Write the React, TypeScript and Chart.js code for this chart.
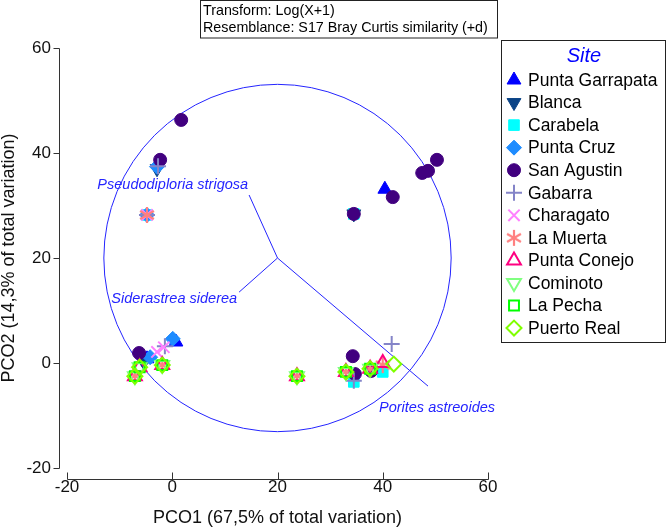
import React, { useEffect, useRef } from 'react';
import { Chart, registerables } from 'chart.js';
import { drawPoint } from 'chart.js/helpers';

Chart.register(...registerables);

const FONT = "'Liberation Sans', Arial, Helvetica, sans-serif";

// ---------------- data ----------------
const siteNames = [
  'Punta Garrapata', 'Blanca', 'Carabela', 'Punta Cruz', 'San Agustin', 'Gabarra',
  'Charagato', 'La Muerta', 'Punta Conejo', 'Cominoto', 'La Pecha', 'Puerto Real',
];

const puntaGarrapata = [[40.4, 33.1], [0.7, 4.0], [-4.8, 0.8]];
const blanca = [[-2.9, 37.0], [34.5, 28.4], [-5.4, 0.2]];
const carabela = [[-4.8, 28.2], [34.5, 28.4], [34.5, -3.6], [40.0, -1.7]];
const puntaCruz = [[0.1, 4.6], [-2.9, 37.4], [-4.8, 28.2], [-4.2, 1.1]];
const sanAgustin = [
  [1.7, 46.3], [-2.3, 38.7], [34.5, 28.4], [41.9, 31.6], [47.5, 36.2], [48.6, 36.6],
  [50.3, 38.7], [-6.3, 1.9], [34.3, 1.3], [34.7, -2.1], [37.8, -1.5],
];
const gabarra = [[-2.7, 37.5], [-4.8, 28.2], [-1.4, 3.2], [34.5, -3.4], [41.7, 3.6]];
const charagato = [[-4.8, 28.2], [-2.9, 2.1], [-1.6, 3.0]];
const laMuerta = [[-4.8, 28.2], [-7.1, -2.5], [-1.9, -0.4], [23.7, -2.5], [33.0, -1.7], [37.6, -1.1], [40.0, -0.4]];
const puntaConejo = [[-7.1, -2.5], [-6.2, -0.8], [-1.9, -0.4], [23.7, -2.5], [33.0, -1.7], [37.6, -1.1], [40.0, 0.0]];
const cominoto = [[-7.1, -2.5], [-6.2, -0.8], [-1.9, -0.4], [23.7, -2.5], [33.0, -1.7], [37.6, -1.1]];
const laPecha = [[-7.1, -2.5], [-6.2, -0.8], [-1.9, -0.4], [23.7, -2.5], [33.0, -1.7], [37.6, -1.1]];
const puertoReal = [[-7.1, -2.5], [-6.2, -0.8], [-1.9, -0.4], [23.7, -2.5], [33.0, -1.7], [37.6, -1.1], [42.1, -0.2]];

const siteData = [
  puntaGarrapata, blanca, carabela, puntaCruz, sanAgustin, gabarra,
  charagato, laMuerta, puntaConejo, cominoto, laPecha, puertoReal,
];

const axisTicks = [-20, 0, 20, 40, 60];
const vectorNames = ['Pseudodiploria strigosa', 'Siderastrea siderea', 'Porites astreoides'];
const vectorOrigin = [20, 20];
const vectorEnds = [[14.6, 32.0], [12.7, 13.5], [48.6, -4.4]];
const circleRadius = 33;

const titleLines = ['Transform: Log(X+1)', 'Resemblance: S17 Bray Curtis similarity (+d)'];
const legendTitle = 'Site';
const xTitle = 'PCO1 (67,5% of total variation)';
const yTitle = 'PCO2 (14,3% of total variation)';

// ---------------- styles ----------------
function makeAsterisk(color: string): HTMLCanvasElement {
  const c = document.createElement('canvas');
  c.width = 18; c.height = 18;
  const g = c.getContext('2d')!;
  g.strokeStyle = color; g.lineWidth = 2.2; g.lineCap = 'butt';
  const r = 8;
  for (let k = 0; k < 3; k++) {
    const a = Math.PI / 2 + (k * Math.PI) / 3;
    g.beginPath();
    g.moveTo(9 - r * Math.cos(a), 9 - r * Math.sin(a));
    g.lineTo(9 + r * Math.cos(a), 9 + r * Math.sin(a));
    g.stroke();
  }
  return c;
}

export default function App() {
  const ref = useRef<HTMLCanvasElement>(null);

  useEffect(() => {
    const canvas = ref.current!;
    const asterisk = makeAsterisk('#ff8080');

    const styles: any[] = [
      { style: 'triangle', rot: 0, color: '#0000ff', fill: true, r: 8 },
      { style: 'triangle', rot: 180, color: '#0b4487', fill: true, r: 8 },
      { style: 'rect', rot: 0, color: '#00ffff', fill: true, r: 7.5 },
      { style: 'rectRot', rot: 0, color: '#1e8cff', fill: true, r: 7.5 },
      { style: 'circle', rot: 0, color: '#41007f', fill: true, r: 6.5 },
      { style: 'cross', rot: 0, color: '#8484c8', fill: false, r: 8 },
      { style: 'crossRot', rot: 0, color: '#ff80ff', fill: false, r: 8 },
      { style: asterisk, rot: 0, color: '#ff8080', fill: false, r: 8 },
      { style: 'triangle', rot: 0, color: '#ff0080', fill: false, r: 8 },
      { style: 'triangle', rot: 180, color: '#80ff80', fill: false, r: 8 },
      { style: 'rect', rot: 0, color: '#00ff00', fill: false, r: 7 },
      { style: 'rectRot', rot: 0, color: '#80ff00', fill: false, r: 7.5 },
    ];

    const blue = '#2424ff';

    const siteSets = siteData.map((pts, i) => {
      const st = styles[i];
      return {
        type: 'scatter',
        label: siteNames[i],
        data: pts.map(([x, y]) => ({ x, y })),
        pointStyle: st.style,
        pointRotation: st.rot,
        pointRadius: st.r,
        pointHoverRadius: st.r,
        backgroundColor: st.fill ? st.color : 'rgba(0,0,0,0)',
        borderColor: st.color,
        pointBorderWidth: st.fill ? 1 : 2,
        borderWidth: st.fill ? 1 : 2,
        order: 20 - i,
      };
    });

    const vectorSets = vectorEnds.map((e, i) => ({
      type: 'scatter',
      label: vectorNames[i],
      data: [{ x: vectorOrigin[0], y: vectorOrigin[1] }, { x: e[0], y: e[1] }],
      showLine: true,
      pointRadius: 0,
      borderColor: blue,
      borderWidth: 1,
      order: 50,
    }));

    const decor = {
      id: 'decor',
      beforeDatasetsDraw(chart: any) {
        const { ctx, scales } = chart;
        const xs = scales.x, ys = scales.y;
        const cx = xs.getPixelForValue(vectorOrigin[0]);
        const cy = ys.getPixelForValue(vectorOrigin[1]);
        const rp = xs.getPixelForValue(vectorOrigin[0] + circleRadius) - cx;
        ctx.save();
        ctx.strokeStyle = blue;
        ctx.lineWidth = 1;
        ctx.beginPath();
        ctx.arc(cx, cy, rp, 0, Math.PI * 2);
        ctx.stroke();
        ctx.restore();
      },
      afterDraw(chart: any) {
        const { ctx, scales, chartArea } = chart;
        const xs = scales.x, ys = scales.y;
        ctx.save();
        // detached axes
        ctx.strokeStyle = '#333';
        ctx.lineWidth = 1;
        const ax = Math.round(chartArea.left - 8) + 0.5;
        const ay = Math.round(chartArea.bottom + 11) + 0.5;
        ctx.beginPath();
        ctx.moveTo(ax, Math.round(ys.getPixelForValue(axisTicks[axisTicks.length - 1])) + 0.5);
        ctx.lineTo(ax, Math.round(ys.getPixelForValue(axisTicks[0])) + 0.5);
        axisTicks.forEach((v) => {
          const py = Math.round(ys.getPixelForValue(v)) + 0.5;
          ctx.moveTo(ax - 6, py);
          ctx.lineTo(ax, py);
        });
        ctx.moveTo(Math.round(xs.getPixelForValue(axisTicks[0])) + 0.5, ay);
        ctx.lineTo(Math.round(xs.getPixelForValue(axisTicks[axisTicks.length - 1])) + 0.5, ay);
        axisTicks.forEach((v) => {
          const px = Math.round(xs.getPixelForValue(v)) + 0.5;
          ctx.moveTo(px, ay - 7);
          ctx.lineTo(px, ay);
        });
        ctx.stroke();

        // vector labels
        ctx.fillStyle = blue;
        ctx.font = `italic 14.5px ${FONT}`;
        ctx.textBaseline = 'middle';
        const offs = [
          { dx: -1, dy: -10, align: 'right' },
          { dx: -2, dy: 7, align: 'right' },
          { dx: 9, dy: 22, align: 'center' },
        ];
        vectorEnds.forEach((e, i) => {
          const px = xs.getPixelForValue(e[0]);
          const py = ys.getPixelForValue(e[1]);
          ctx.textAlign = offs[i].align;
          ctx.fillText(vectorNames[i], px + offs[i].dx, py + offs[i].dy);
        });

        // title box
        ctx.strokeStyle = '#222';
        ctx.strokeRect(200.5, 0.5, 297, 37.5);
        ctx.fillStyle = '#000';
        ctx.font = `14.3px ${FONT}`;
        ctx.textAlign = 'left';
        ctx.fillText(titleLines[0], 203, 11.5);
        ctx.fillText(titleLines[1], 203, 28.5);

        // legend
        ctx.strokeRect(501.5, 40.5, 164, 302);
        ctx.fillStyle = '#0000ff';
        ctx.font = `italic 20px ${FONT}`;
        ctx.textAlign = 'center';
        ctx.fillText(legendTitle, 584, 56);
        ctx.font = `17.5px ${FONT}`;
        ctx.textAlign = 'left';
        siteNames.forEach((name, i) => {
          const st = styles[i];
          const y = 80 + i * 22.55;
          ctx.save();
          ctx.fillStyle = st.fill ? st.color : 'rgba(0,0,0,0)';
          ctx.strokeStyle = st.color;
          ctx.lineWidth = st.fill ? 1 : 2;
          drawPoint(ctx, { pointStyle: st.style, rotation: st.rot, radius: st.r, borderWidth: st.fill ? 1 : 2 }, 514, y);
          ctx.restore();
          ctx.fillStyle = '#000';
          ctx.fillText(name, 528, y + 1);
        });
        ctx.restore();
      },
    };

    const tickFont = { family: FONT, size: 17 };
    const chart = new Chart(canvas, {
      type: 'scatter',
      data: { datasets: [...vectorSets, ...siteSets] as any },
      options: {
        responsive: false,
        animation: false,
        devicePixelRatio: 1,
        layout: { padding: { left: 0, top: 48, right: 179, bottom: 0 } },
        plugins: { legend: { display: false }, tooltip: { enabled: false }, title: { display: false } },
        scales: {
          x: {
            type: 'linear',
            min: axisTicks[0],
            max: axisTicks[axisTicks.length - 1],
            afterBuildTicks: (s: any) => { s.ticks = axisTicks.map((v) => ({ value: v })); },
            afterFit: (s: any) => { s.height = 61; },
            grid: { display: false, drawTicks: false },
            border: { display: false },
            ticks: { font: tickFont, color: '#111', padding: 9, maxRotation: 0, autoSkip: false },
            title: { display: true, text: xTitle, color: '#111', font: { family: FONT, size: 18, lineHeight: 1 }, padding: { top: 0, bottom: 2 } },
          },
          y: {
            type: 'linear',
            min: axisTicks[0],
            max: axisTicks[axisTicks.length - 1],
            afterBuildTicks: (s: any) => { s.ticks = axisTicks.map((v) => ({ value: v })); },
            afterFit: (s: any) => { s.width = 67; },
            grid: { display: false, drawTicks: false },
            border: { display: false },
            ticks: { font: tickFont, color: '#111', padding: 16, autoSkip: false },
            title: { display: true, text: yTitle, color: '#111', font: { family: FONT, size: 18, lineHeight: 1 }, padding: { top: 0, bottom: 0 } },
          },
        },
      } as any,
      plugins: [decor],
    });
    return () => chart.destroy();
  }, []);

  return (
    <div style={{ position: 'absolute', left: 0, top: 0, width: 667, height: 529, background: '#fff' }}>
      <canvas ref={ref} width={667} height={529} style={{ display: 'block', width: 667, height: 529 }} />
    </div>
  );
}
